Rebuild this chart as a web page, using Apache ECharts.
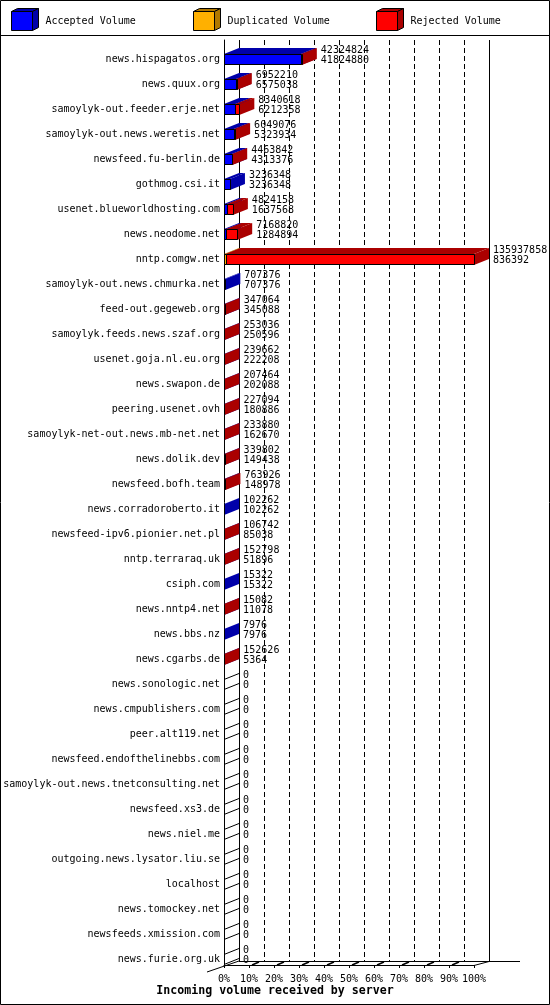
<!DOCTYPE html>
<html>
<head>
<meta charset="utf-8">
<script src="https://cdn.jsdelivr.net/npm/echarts@6/dist/echarts.min.js"></script>
<style>
html, body { margin: 0; padding: 0; background: #fff; }
#chart { width: 550px; height: 1005px; }
</style>
</head>
<body>
<div id="chart"></div>
<script>
// servers, top to bottom
var hosts = [
  'news.hispagatos.org', 'news.quux.org', 'samoylyk-out.feeder.erje.net',
  'samoylyk-out.news.weretis.net', 'newsfeed.fu-berlin.de', 'gothmog.csi.it',
  'usenet.blueworldhosting.com', 'news.neodome.net', 'nntp.comgw.net',
  'samoylyk-out.news.chmurka.net', 'feed-out.gegeweb.org', 'samoylyk.feeds.news.szaf.org',
  'usenet.goja.nl.eu.org', 'news.swapon.de', 'peering.usenet.ovh',
  'samoylyk-net-out.news.mb-net.net', 'news.dolik.dev', 'newsfeed.bofh.team',
  'news.corradoroberto.it', 'newsfeed-ipv6.pionier.net.pl', 'nntp.terraraq.uk',
  'csiph.com', 'news.nntp4.net', 'news.bbs.nz', 'news.cgarbs.de',
  'news.sonologic.net', 'news.cmpublishers.com', 'peer.alt119.net',
  'newsfeed.endofthelinebbs.com', 'samoylyk-out.news.tnetconsulting.net',
  'newsfeed.xs3.de', 'news.niel.me', 'outgoing.news.lysator.liu.se',
  'localhost', 'news.tomockey.net', 'newsfeeds.xmission.com', 'news.furie.org.uk'
];

// total incoming volume (upper number)
var totalVolume = [
  42324824, 6952210, 8340618, 6049076, 4463842, 3236348, 4824158, 7168820,
  135937858, 707376, 347064, 253036, 239662, 207464, 227094, 233880,
  339802, 763926, 102262, 106742, 152798, 15322, 15082, 7976, 152626,
  0, 0, 0, 0, 0, 0, 0, 0, 0, 0, 0, 0
];

var acceptedVolume = [
  41824880, 6575038, 6212358, 5323934, 4313376, 3236348, 1637568, 1284894,
  0, 707376, 345088, 250596, 222208, 202088, 180886, 162670,
  149438, 148978, 102262, 85038, 51896, 15322, 11078, 7976, 5364,
  0, 0, 0, 0, 0, 0, 0, 0, 0, 0, 0, 0
];

var duplicatedVolume = [
  0, 0, 0, 0, 0, 0, 0, 0,
  836392, 0, 0, 0, 0, 0, 0, 0,
  0, 0, 0, 0, 0, 0, 0, 0, 0,
  0, 0, 0, 0, 0, 0, 0, 0, 0, 0, 0, 0
];

var pctTicks = [0, 10, 20, 30, 40, 50, 60, 70, 80, 90, 100];

var MONO = "'DejaVu Sans Mono', monospace";
var DX = 15, DY = 6, BAR_H = 11;
var FRONT_L = 224, FRONT_W = 250, TOP = 40, FRONT_B = 965;
var BACK_B = 961;

var maxTotal = Math.max.apply(null, totalVolume);
function pct(v) { return v / maxTotal * 100; }

var accData = [], dupData = [], rejData = [], valData = [];
for (var i = 0; i < hosts.length; i++) {
  var a = acceptedVolume[i], d = duplicatedVolume[i];
  accData.push([0, pct(a), i]);
  dupData.push([pct(a), pct(a + d), i]);
  rejData.push([pct(a + d), pct(totalVolume[i]), i]);
  valData.push([pct(totalVolume[i]), i, totalVolume[i], a + d]);
}

function boxes(front, dark) {
  return function (params, api) {
    var s = api.value(0), e = api.value(1), idx = api.value(2);
    if (!(e > s)) return null;
    var p0 = api.coord([s, idx]), p1 = api.coord([e, idx]);
    var band = api.size([0, 1])[1];
    var bottom = Math.round(p0[1] + band / 2);
    var top = bottom - BAR_H;
    var x0 = p0[0], x1 = p1[0];
    return {
      type: 'group',
      children: [
        { type: 'polygon', shape: { points: [[x0, top], [x0 + DX, top - DY], [x1 + DX, top - DY], [x1, top]] },
          style: { fill: dark } },
        { type: 'polygon', shape: { points: [[x1, top], [x1 + DX, top - DY], [x1 + DX, bottom - DY], [x1, bottom]] },
          style: { fill: dark } },
        { type: 'rect', shape: { x: Math.round(x0) + 0.5, y: top + 0.5, width: Math.max(Math.round(x1) - Math.round(x0), 0), height: BAR_H - 1 },
          style: { fill: front, stroke: '#000', lineWidth: 1 } }
      ]
    };
  };
}

function values(params, api) {
  var p = api.coord([api.value(0), api.value(1)]);
  var band = api.size([0, 1])[1];
  var bottom = Math.round(p[1] + band / 2);
  var top = bottom - BAR_H;
  var mid = bottom - 5.5;
  var tx = p[0] + DX + 4;
  var total = api.value(2), lower = api.value(3);
  var kids = [
    { type: 'text', style: { text: String(total), x: tx, y: mid - 9, fill: '#000',
      fontSize: 10, fontFamily: MONO, verticalAlign: 'middle', align: 'left' } },
    { type: 'text', style: { text: String(lower), x: tx, y: mid + 1, fill: '#000',
      fontSize: 10, fontFamily: MONO, verticalAlign: 'middle', align: 'left' } }
  ];
  if (total === 0) {
    kids.push({ type: 'line', shape: { x1: p[0], y1: top + 0.5, x2: p[0] + DX, y2: top - DY + 0.5 },
      style: { stroke: '#000', lineWidth: 1 } });
    kids.push({ type: 'line', shape: { x1: p[0], y1: bottom - 0.5, x2: p[0] + DX, y2: bottom - DY - 0.5 },
      style: { stroke: '#000', lineWidth: 1 } });
  }
  return { type: 'group', children: kids };
}

var legendNames = ['Accepted Volume', 'Duplicated Volume', 'Rejected Volume'];
var fronts = ['#0000ff', '#ffb000', '#ff0000'];
var darks = ['#0000aa', '#b07800', '#aa0000'];
var legendLefts = [11, 193, 376];

var graphics = [
  { type: 'rect', shape: { x: 0.5, y: 0.5, width: 549, height: 1004 }, style: { fill: 'none', stroke: '#000', lineWidth: 1 }, z: 100 },
  { type: 'line', shape: { x1: 0, y1: 35.5, x2: 550, y2: 35.5 }, style: { stroke: '#000', lineWidth: 1 } },
  // floor
  { type: 'line', shape: { x1: FRONT_L + DX, y1: BACK_B + 0.5, x2: 520, y2: BACK_B + 0.5 }, style: { stroke: '#000', lineWidth: 1 } },
  { type: 'line', shape: { x1: 207, y1: 972, x2: FRONT_L + DX, y2: BACK_B }, style: { stroke: '#000', lineWidth: 1 } },
  { type: 'line', shape: { x1: FRONT_L + FRONT_W, y1: FRONT_B + 0.5, x2: FRONT_L + FRONT_W + DX, y2: BACK_B + 0.5 }, style: { stroke: '#000', lineWidth: 1 } }
];
pctTicks.forEach(function (t) {
  if (t === 0 || t === 100) return;
  var fx = FRONT_L + FRONT_W * t / 100;
  graphics.push({ type: 'line', shape: { x1: fx + 3, y1: FRONT_B, x2: fx + 10, y2: BACK_B + 1 },
    style: { stroke: '#000', lineWidth: 1.5 } });
});
legendLefts.forEach(function (L, k) {
  graphics.push({ type: 'polygon', shape: { points: [[L + 0.5, 11.5], [L + 6.5, 8.5], [L + 27.5, 8.5], [L + 21.5, 11.5]] },
    style: { fill: darks[k], stroke: '#000', lineWidth: 1 } });
  graphics.push({ type: 'polygon', shape: { points: [[L + 21.5, 11.5], [L + 27.5, 8.5], [L + 27.5, 27.5], [L + 21.5, 30.5]] },
    style: { fill: darks[k], stroke: '#000', lineWidth: 1 } });
});

var chart = echarts.init(document.getElementById('chart'));

chart.setOption({
  animation: false,
  backgroundColor: '#fff',
  title: {
    text: 'Incoming volume received by server',
    left: 'center',
    top: 985,
    padding: 0,
    textStyle: { fontFamily: MONO, fontSize: 11.6, fontWeight: 'bold', color: '#000' }
  },
  legend: legendNames.map(function (n, k) {
    return {
      data: [n], left: legendLefts[k], top: 11, padding: 0, itemGap: 0,
      itemWidth: 21, itemHeight: 19, icon: 'rect', selectedMode: false,
      itemStyle: { borderColor: '#000', borderWidth: 1 },
      textStyle: { fontFamily: MONO, fontSize: 10, color: '#000', padding: [0, 0, 0, 8] }
    };
  }),
  grid: [
    { left: FRONT_L, width: FRONT_W, top: TOP, bottom: 1005 - FRONT_B },
    { left: FRONT_L + DX, width: FRONT_W, top: TOP, bottom: 1005 - BACK_B }
  ],
  xAxis: [
    { gridIndex: 0, type: 'value', min: 0, max: 100, interval: 10,
      axisLine: { show: true, lineStyle: { color: '#000', width: 1 } },
      axisTick: { show: true, length: 3, lineStyle: { color: '#000' } },
      splitLine: { show: false },
      axisLabel: { formatter: '{value}%', margin: 9, fontFamily: MONO, fontSize: 10, color: '#000' } },
    { gridIndex: 1, type: 'value', min: 0, max: 100, interval: 10,
      axisLine: { show: false }, axisTick: { show: false }, axisLabel: { show: false },
      splitLine: { show: true, lineStyle: { color: '#000', width: 1, type: [5, 3] } } },
    { gridIndex: 1, type: 'value', min: 0, max: 100, interval: 100,
      axisLine: { show: false }, axisTick: { show: false }, axisLabel: { show: false },
      splitLine: { show: true, lineStyle: { color: '#000', width: 1 } } }
  ],
  yAxis: [
    { gridIndex: 0, type: 'category', data: hosts, inverse: true,
      axisLine: { show: true, lineStyle: { color: '#000', width: 1 } },
      axisTick: { show: false },
      axisLabel: { margin: 4, fontFamily: MONO, fontSize: 10, color: '#000',
        verticalAlign: 'top', lineHeight: 13, interval: 0 } },
    { gridIndex: 1, type: 'value', show: false, min: 0, max: 1 }
  ],
  series: [
    { name: legendNames[0], type: 'custom', xAxisIndex: 0, yAxisIndex: 0, data: accData,
      encode: { x: [0, 1], y: 2 }, itemStyle: { color: fronts[0] }, renderItem: boxes(fronts[0], darks[0]) },
    { name: legendNames[1], type: 'custom', xAxisIndex: 0, yAxisIndex: 0, data: dupData,
      encode: { x: [0, 1], y: 2 }, itemStyle: { color: fronts[1] }, renderItem: boxes(fronts[1], darks[1]) },
    { name: legendNames[2], type: 'custom', xAxisIndex: 0, yAxisIndex: 0, data: rejData,
      encode: { x: [0, 1], y: 2 }, itemStyle: { color: fronts[2] }, renderItem: boxes(fronts[2], darks[2]) },
    { name: 'values', type: 'custom', xAxisIndex: 0, yAxisIndex: 0, data: valData,
      encode: { x: 0, y: 1 }, renderItem: values, z: 5 }
  ],
  graphic: graphics
});
</script>
</body>
</html>
